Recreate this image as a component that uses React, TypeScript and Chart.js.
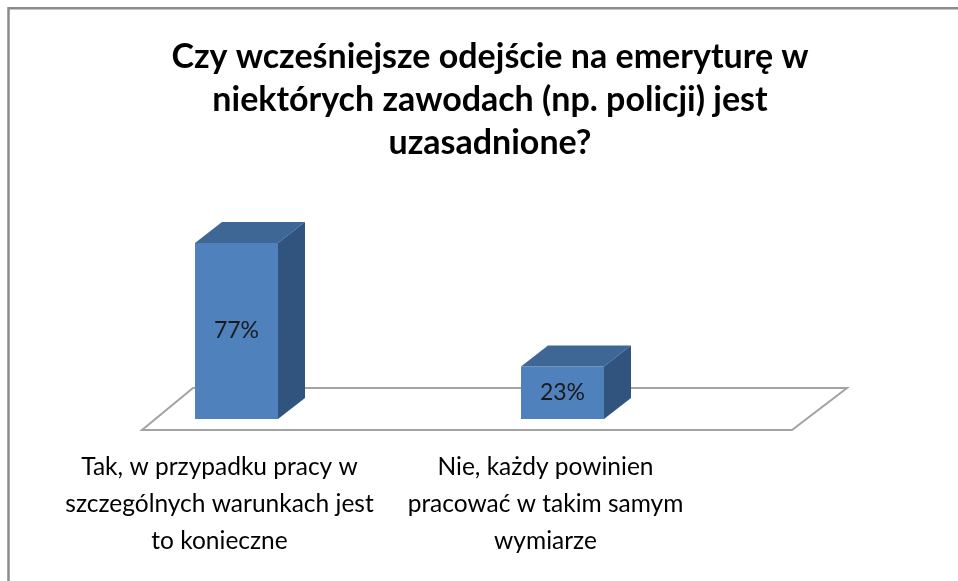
import React, { useEffect, useRef } from 'react';
import { Chart, registerables } from 'chart.js';

Chart.register(...registerables);

const titleLines = [
  'Czy wcześniejsze odejście na emeryturę w',
  'niektórych zawodach (np. policji) jest',
  'uzasadnione?',
];

const categories = [
  ['Tak, w przypadku pracy w', 'szczególnych warunkach jest', 'to konieczne'],
  ['Nie, każdy powinien', 'pracować w takim samym', 'wymiarze'],
];

const values = [77, 23];
const valueLabels = values.map((v) => `${v}%`);

const FRONT = '#4F81BD';
const TOP = '#3E6796';
const SIDE = '#31547F';
const DEPTH_X = 27;
const DEPTH_Y = 21;

const framePlugin = {
  id: 'frame',
  beforeDraw(chart: any) {
    const { ctx, width, height } = chart;
    ctx.save();
    ctx.fillStyle = '#ffffff';
    ctx.fillRect(0, 0, width, height);
    ctx.strokeStyle = '#8c8c8c';
    ctx.lineWidth = 2.5;
    ctx.beginPath();
    ctx.moveTo(8.5, height + 2);
    ctx.lineTo(8.5, 8.3);
    ctx.lineTo(width + 2, 8.3);
    ctx.stroke();
    ctx.restore();
  },
};

const floorPlugin = {
  id: 'floor3d',
  beforeDatasetsDraw(chart: any) {
    const { ctx } = chart;
    const xs = chart.scales.x;
    const ys = chart.scales.y;
    const base = ys.getPixelForValue(0);
    const fy = base + 11;
    const by = fy - 42;
    const fl = xs.left + 68.5;
    const fr = xs.right + 66.5;
    ctx.save();
    ctx.strokeStyle = '#a3a3a3';
    ctx.lineWidth = 2;
    ctx.beginPath();
    ctx.moveTo(fl, fy);
    ctx.lineTo(fr, fy);
    ctx.lineTo(fr + 55, by);
    ctx.lineTo(fl + 51, by);
    ctx.closePath();
    ctx.stroke();
    ctx.restore();
  },
};

const barsPlugin = {
  id: 'bars3d',
  afterDatasetsDraw(chart: any) {
    const { ctx } = chart;
    const meta = chart.getDatasetMeta(0);
    meta.data.forEach((bar: any, i: number) => {
      const { x, y, base, width } = bar.getProps(['x', 'y', 'base', 'width'], true);
      const l = x - width / 2;
      const r = x + width / 2;
      ctx.save();
      ctx.fillStyle = TOP;
      ctx.beginPath();
      ctx.moveTo(l, y);
      ctx.lineTo(r, y);
      ctx.lineTo(r + DEPTH_X, y - DEPTH_Y);
      ctx.lineTo(l + DEPTH_X, y - DEPTH_Y);
      ctx.closePath();
      ctx.fill();
      ctx.fillStyle = SIDE;
      ctx.beginPath();
      ctx.moveTo(r, y);
      ctx.lineTo(r + DEPTH_X, y - DEPTH_Y);
      ctx.lineTo(r + DEPTH_X, base - DEPTH_Y);
      ctx.lineTo(r, base);
      ctx.closePath();
      ctx.fill();
      ctx.fillStyle = '#1a1a1a';
      ctx.font = '23px Lato';
      ctx.textAlign = 'center';
      ctx.textBaseline = 'middle';
      ctx.fillText(valueLabels[i], x, (y + base) / 2);
      ctx.restore();
    });
  },
};

export default function App() {
  const ref = useRef<HTMLCanvasElement | null>(null);

  useEffect(() => {
    if (!ref.current) return;
    const chart = new Chart(ref.current, {
      type: 'bar',
      data: {
        labels: categories as any,
        datasets: [
          {
            data: values,
            backgroundColor: FRONT,
            borderWidth: 0,
            categoryPercentage: 1,
            barPercentage: 0.2546,
          },
        ],
      },
      options: {
        responsive: false,
        maintainAspectRatio: false,
        animation: false,
        devicePixelRatio: 1,
        layout: { padding: { left: 22, right: 0, top: 0, bottom: -9 } },
        plugins: {
          legend: { display: false },
          tooltip: { enabled: false },
          title: {
            display: true,
            text: titleLines,
            color: '#000000',
            font: { family: 'Lato', size: 34, weight: 'bold', lineHeight: '43px' },
            padding: { top: 35.5, bottom: 26 },
          },
        },
        scales: {
          x: {
            type: 'category',
            offset: true,
            grid: { display: false, drawTicks: false },
            border: { display: false },
            ticks: {
              color: '#000000',
              font: { family: 'Lato', size: 24.5, lineHeight: '37px' },
              padding: 30,
              labelOffset: -17,
              maxRotation: 0,
              autoSkip: false,
            },
          },
          y: {
            type: 'linear',
            min: 0,
            max: 100,
            display: true,
            grid: { display: false, drawTicks: false },
            border: { display: false },
            ticks: { display: false },
            afterFit: (s: any) => {
              s.width = 51.5;
            },
          },
          yR: {
            type: 'linear',
            position: 'right',
            display: true,
            grid: { display: false, drawTicks: false },
            border: { display: false },
            ticks: { display: false },
            afterFit: (s: any) => {
              s.width = 232.5;
            },
          },
        },
      } as any,
      plugins: [framePlugin, floorPlugin, barsPlugin],
    });
    return () => chart.destroy();
  }, []);

  return (
    <div style={{ position: 'fixed', left: 0, top: 0, width: 958, height: 581, background: '#fff' }}>
      <canvas ref={ref} width={958} height={581} style={{ display: 'block' }} />
    </div>
  );
}
